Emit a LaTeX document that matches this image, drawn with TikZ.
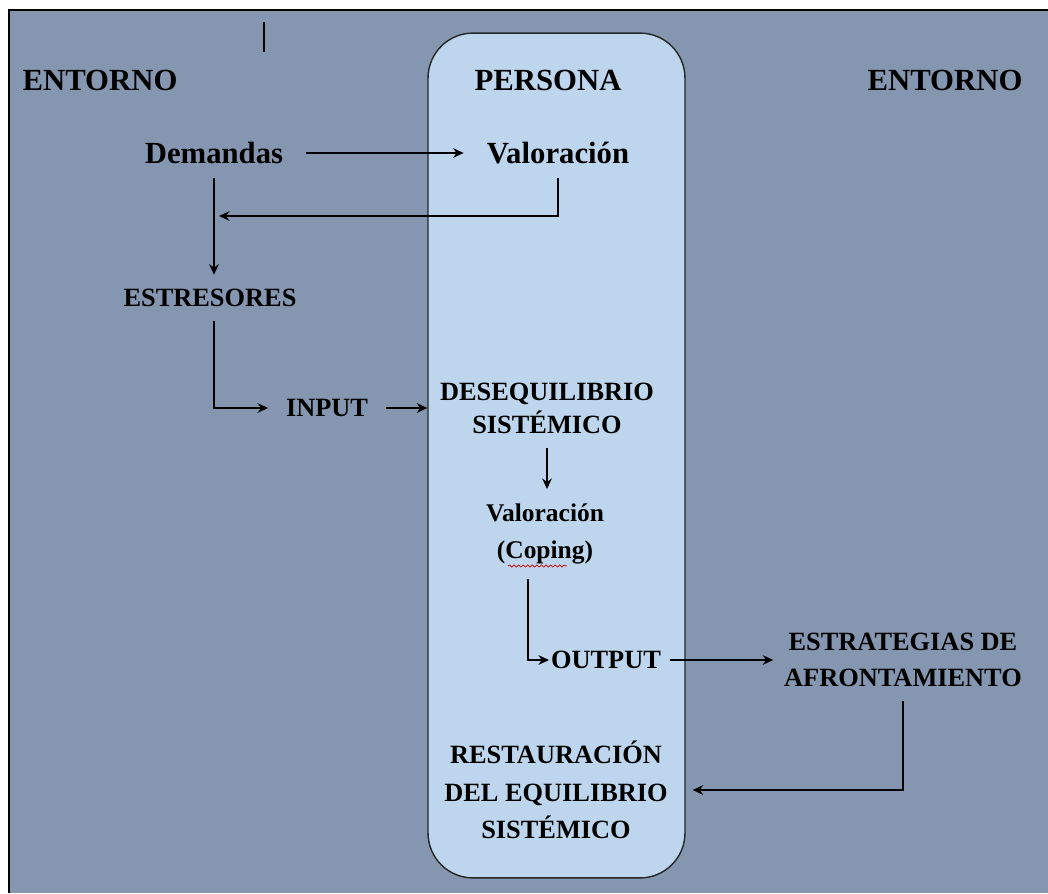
\documentclass[tikz,border=0pt]{standalone}
\usepackage{fontspec}
\setmainfont{Liberation Serif}
\usetikzlibrary{arrows.meta,positioning,calc,decorations.pathmorphing}
\definecolor{slate}{RGB}{133,151,176}
\definecolor{pale}{RGB}{190,214,237}
\tikzset{
  lbl/.style={font=\fontsize{15}{20.4}\selectfont\bfseries,align=center,inner xsep=10pt,inner ysep=8pt},
  big/.style={lbl,font=\fontsize{17.5}{21}\selectfont\bfseries,inner xsep=13pt},
  arr/.style={-{Stealth[length=6pt,width=5.5pt]},draw=black,line width=0.8pt},
}
\begin{document}
\begin{tikzpicture}[x=0.02cm,y=-0.02cm]
  \useasboundingbox (0,0) rectangle (1048,893);
  \fill[slate] (9,10) rectangle (1048,893);
  \draw[line width=1.2pt] (9,893) -- (9,10) -- (1048,10);
  \draw[line width=0.8pt] (264,22) -- (264,52);
  \node[draw=black!85,line width=0.8pt,fill=pale,rounded corners=0.9cm,inner sep=0,
        minimum width=5.14cm,minimum height=16.9cm] (cap) at (556.5,455.5) {};
  \node[big] (e1) at (100,80) {ENTORNO};
  \node[big] (p1) at (548,80) {PERSONA};
  \node[big] (e2) at (945,80) {ENTORNO};
  \node[big] (n1) at (214,153) {Demandas};
  \node[big] (n5) at (558,153) {Valoración};
  \node[lbl] (n3) at (210,298) {ESTRESORES};
  \node[lbl] (n4) at (327,408) {INPUT};
  \node[lbl,font=\fontsize{15}{18.7}\selectfont\bfseries] (n7) at (547,408) {DESEQUILIBRIO\\SISTÉMICO};
  \node[lbl,font=\fontsize{14.5}{21.5}\selectfont\bfseries] (n8) at (545,534) {Valoración\\(Coping)};
  \node[lbl,inner xsep=1pt] (n9) at (606,660) {OUTPUT};
  \node[lbl,inner xsep=6pt] (n10) at (903,660) {ESTRATEGIAS DE\\AFRONTAMIENTO};
  \node[lbl,font=\fontsize{15}{21.5}\selectfont\bfseries,inner xsep=14pt] (n11) at (556,790) {RESTAURACIÓN\\DEL EQUILIBRIO\\SISTÉMICO};
  \coordinate (j1) at (219,216);
  \draw[red!80!black,line width=0.4pt,decorate,decoration={snake,amplitude=0.6pt,segment length=2.6pt}] (508,566) -- (567,566);
  \draw[arr] (n1) -- (n5);
  \draw[arr] (n5.south) |- (j1);
  \draw[arr] (n1.south) -- (n1.south |- n3.north);
  \draw[arr] (n3.south -| n1) |- (n4.west);
  \draw[arr] (n4.east) -- (n4 -| cap.west);
  \draw[arr] (n7.south) -- (n7.south |- n8.north);
  \draw[arr] ([xshift=-0.34cm]n8.south) |- (n9.west);
  \draw[arr,shorten <=4pt] (n9) -- (n10);
  \draw[arr] (n10.south) |- (n11.east);
\end{tikzpicture}
\end{document}
